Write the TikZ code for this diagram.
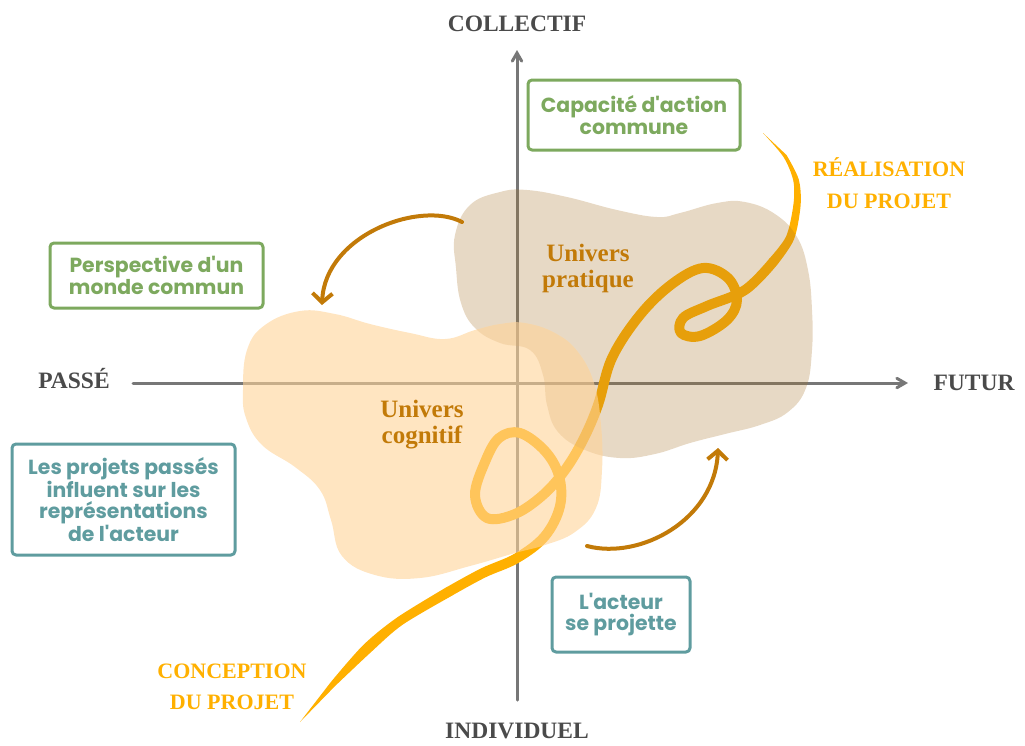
\documentclass[tikz,border=0pt]{standalone}
\usepackage{fontspec}
\setmainfont{Liberation Serif}
\newfontfamily\boxfont{Poppins}
\usepackage{tikz}
\usetikzlibrary{arrows,arrows.meta}
\definecolor{axisgray}{HTML}{777777}
\definecolor{labelgray}{HTML}{4A4A4A}
\definecolor{boxgreen}{HTML}{7DA95E}
\definecolor{boxteal}{HTML}{5F9C9F}
\definecolor{amber}{HTML}{FFB000}
\definecolor{rust}{HTML}{C27A08}
\definecolor{cognicol}{RGB}{255,211,152}
\definecolor{pratcol}{RGB}{168,116,41}
\tikzset{
  axislabel/.style={text=labelgray,anchor=base,font=\bfseries\fontsize{23.5}{26}\selectfont},
  bloblabel/.style={text=rust,align=center,font=\bfseries\fontsize{25}{26}\selectfont},
  phaselabel/.style={text=amber,align=center,font=\bfseries\fontsize{22}{31.5}\selectfont},
  greenbox/.style={draw=boxgreen,text=boxgreen,line width=3pt,rounded corners=4pt,align=center,
    font=\boxfont\bfseries\fontsize{20.4}{21.7}\selectfont},
  tealbox/.style={greenbox,draw=boxteal,text=boxteal},
  movearrow/.style={-{Straight Barb[length=9pt,width=20pt]},draw=rust,line width=4pt}
}
\begin{document}
\begin{tikzpicture}[line cap=round,line join=round,>=angle 60,x=1pt,y=-1pt]
  \useasboundingbox (0,0) rectangle (1025,745);
  % axes
  \coordinate (xmin) at (133,383);
  \coordinate (xmax) at (908,383);
  \coordinate (ymin) at (517,700);
  \coordinate (ymax) at (517,50);
  \draw[->,axisgray,line width=3pt] (xmin) -- (xmax);
  \draw[->,axisgray,line width=3pt] (ymin) -- (ymax);
  % trajectoire du projet
  \fill[amber] (300,722) -- plot[smooth] coordinates {(330.8,682.1) (363.2,645.1) (397.4,617.3) (447.5,586.6)}
    -- plot[smooth] coordinates {(452.5,595.4) (402.6,624.7) (370.8,652.3) (335.2,685.9)} -- cycle;
  \draw[amber,line width=10pt] plot[smooth,tension=0.6] coordinates {(450,591) (483,573) (517,558) (545,536)
    (560,506) (559,476) (545,451) (520,433) (499,438) (485,462) (475,495) (487,518) (515,514) (543,495)
    (565,470) (583,440) (598,405) (612,358) (640,315) (672,284) (703,268) (728,278) (737,300) (727,320)
    (700,336) (681,333) (683,318) (707,306) (745,290) (773,262)};
  \fill[amber] plot[smooth] coordinates {(768.9,259.1) (786.1,236.4) (793.4,204.6) (793.3,180.7) (783.5,157.0) (763,133)}
    -- plot[smooth] coordinates {(786.5,155.0) (798.7,179.3) (800.6,205.4) (793.9,239.6) (777.1,264.9)} -- cycle;
  % univers
  \fill[pratcol,opacity=0.27] plot[smooth cycle,tension=0.7] coordinates {(455,235) (470,205) (500,192) (527,190)
    (567,197) (617,210) (657,217) (680,213) (717,203) (745,202) (775,214) (797,237) (808,270) (812,310) (812,350)
    (806,388) (788,412) (760,425) (725,434) (690,443) (655,454) (620,458) (585,450) (558,432) (547,405) (543,375)
    (530,350) (500,343) (475,328) (461,303) (456,268)};
  \fill[cognicol,opacity=0.6] plot[smooth cycle,tension=0.7] coordinates {(243,390) (247,350) (265,325) (300,311)
    (335,314) (370,324) (410,333) (445,339) (475,330) (500,324) (525,323) (555,333) (578,352) (594,383) (601,425)
    (602,470) (596,508) (575,532) (545,545) (515,553) (470,566) (420,578) (375,575) (342,556) (331,520) (320,490)
    (295,467) (262,445) (246,418)};
  \node[bloblabel] (pratique) at (588,268) {Univers\\pratique};
  \node[bloblabel] (cognitif) at (422,425) {Univers\\cognitif};
  % mouvements
  \coordinate (arrAs) at (462,222);
  \coordinate (arrAe) at (322,305);
  \coordinate (arrBs) at (587,546);
  \coordinate (arrBe) at (718,448);
  \draw[movearrow] (arrAs) .. controls (420,200) and (325,235) .. (arrAe);
  \draw[movearrow] (arrBs) .. controls (640,560) and (715,520) .. (arrBe);
  % etiquettes
  \node[axislabel] (collectif) at (517,31) {COLLECTIF};
  \node[axislabel] (individuel) at (517,738) {INDIVIDUEL};
  \node[axislabel] (passe) at (74,388) {PASSÉ};
  \node[axislabel] (futur) at (974,390) {FUTUR};
  \node[phaselabel] (realisation) at (889,183) {RÉALISATION\\DU PROJET};
  \node[phaselabel] (conception) at (232,687) {CONCEPTION\\DU PROJET};
  \node[greenbox,minimum width=212pt,minimum height=70pt] (capacite) at (634,115) {Capacité d'action\\commune};
  \node[greenbox,minimum width=213pt,minimum height=65pt] (perspective) at (156.5,275.5) {Perspective d'un\\monde commun};
  \node[tealbox,minimum width=223pt,minimum height=111pt] (passes) at (123.5,499.5) {Les projets passés\\influent sur les\\représentations\\de l'acteur};
  \node[tealbox,minimum width=138pt,minimum height=75pt] (acteur) at (621,614.5) {L'acteur\\se projette};
\end{tikzpicture}
\end{document}
